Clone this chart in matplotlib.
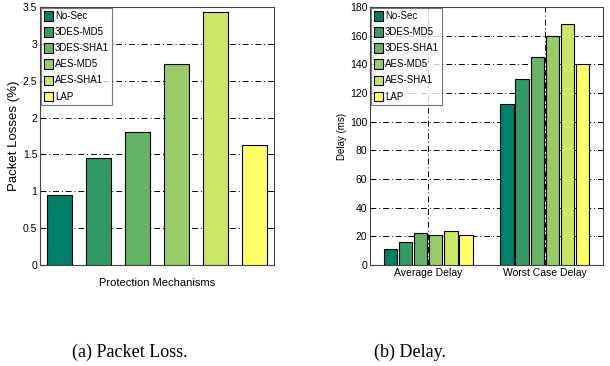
import matplotlib
matplotlib.use("Agg")
import matplotlib.pyplot as plt
import numpy as np

mechanisms = ["No-Sec", "3DES-MD5", "3DES-SHA1", "AES-MD5", "AES-SHA1", "LAP"]
packet_loss = [0.95, 1.45, 1.80, 2.72, 3.43, 1.63]
delay_groups = ["Average Delay", "Worst Case Delay"]
avg_delay = [11, 16, 22, 20.7, 23.5, 20.7]
worst_delay = [112, 130, 145, 159.5, 168, 140]

fam = ["Liberation Sans", "DejaVu Sans"]
plt.rcParams["font.family"] = fam

cmap = plt.get_cmap("summer")
colors = [cmap(i / 5) for i in range(6)]

fig = plt.figure(figsize=(6.10, 3.66), dpi=100)
W, H = 610, 366

def add_ax(x0, x1, y0, y1):
    return fig.add_axes([x0 / W, 1 - y1 / H, (x1 - x0) / W, (y1 - y0) / H])

grid_kw = dict(color="black", linestyle=(0, (6, 3, 1, 3)), linewidth=0.7)
leg_kw = dict(loc="upper left", fontsize=7, frameon=True, fancybox=False,
              edgecolor="#555555", borderaxespad=0.1, handlelength=0.9,
              handleheight=1.1, handletextpad=0.2, labelspacing=0.62,
              borderpad=0.35)

# Left: packet loss
ax1 = add_ax(40, 274, 7, 265)
x = np.arange(1, len(mechanisms) + 1)
handles = []
for i, (m, v) in enumerate(zip(mechanisms, packet_loss)):
    h = ax1.bar(x[i], v, width=0.62, color=colors[i], edgecolor="black",
                linewidth=0.8, label=m, zorder=3)
    handles.append(h)
ax1.set_xlim(0.5, 6.5)
ax1.set_ylim(0, 3.5)
ax1.set_yticks(np.arange(0, 3.51, 0.5))
ax1.set_yticklabels(["0", "0.5", "1", "1.5", "2", "2.5", "3", "3.5"])
ax1.set_xticks([])
ax1.yaxis.grid(True, **grid_kw)
ax1.set_axisbelow(True)
ax1.set_ylabel("Packet Losses (%)", fontsize=9.5)
ax1.yaxis.set_label_coords((20 - 40) / 234, 0.5)
ax1.set_xlabel("Protection Mechanisms", fontsize=8, labelpad=9)
ax1.legend(handles=handles, **leg_kw).get_frame().set_linewidth(0.8)

# Right: delay
ax2 = add_ax(370, 603, 7, 265)
gx = np.arange(1, len(delay_groups) + 1)
n = len(mechanisms)
slot = 0.78 / n
handles2 = []
for i, m in enumerate(mechanisms):
    vals = [avg_delay[i], worst_delay[i]]
    h = ax2.bar(gx + (i - (n - 1) / 2) * slot, vals, width=slot * 0.88,
                color=colors[i], edgecolor="black", linewidth=0.8,
                label=m, zorder=3)
    handles2.append(h)
ax2.set_xlim(0.5, 2.5)
ax2.set_ylim(0, 180)
ax2.set_yticks(np.arange(0, 181, 20))
ax2.set_xticks(gx)
ax2.set_xticklabels(delay_groups)
ax2.grid(True, **grid_kw)
ax2.set_axisbelow(True)
ax2.set_ylabel("Delay (ms)", fontsize=7)
ax2.yaxis.set_label_coords((347 - 370) / 233, 0.5)
ax2.legend(handles=handles2, **leg_kw).get_frame().set_linewidth(0.8)

for ax in (ax1, ax2):
    ax.tick_params(direction="in", labelsize=7.5, length=3, pad=2)
    for s in ax.spines.values():
        s.set_color("#444444")
        s.set_linewidth(0.8)

fig.text(130 / W, 1 - 352 / H, "(a) Packet Loss.", ha="center", va="center",
         fontsize=13, family=["Liberation Serif", "DejaVu Serif"])
fig.text(410 / W, 1 - 352 / H, "(b) Delay.", ha="center", va="center",
         fontsize=13, family=["Liberation Serif", "DejaVu Serif"])

fig.savefig("out.png", dpi=100)
